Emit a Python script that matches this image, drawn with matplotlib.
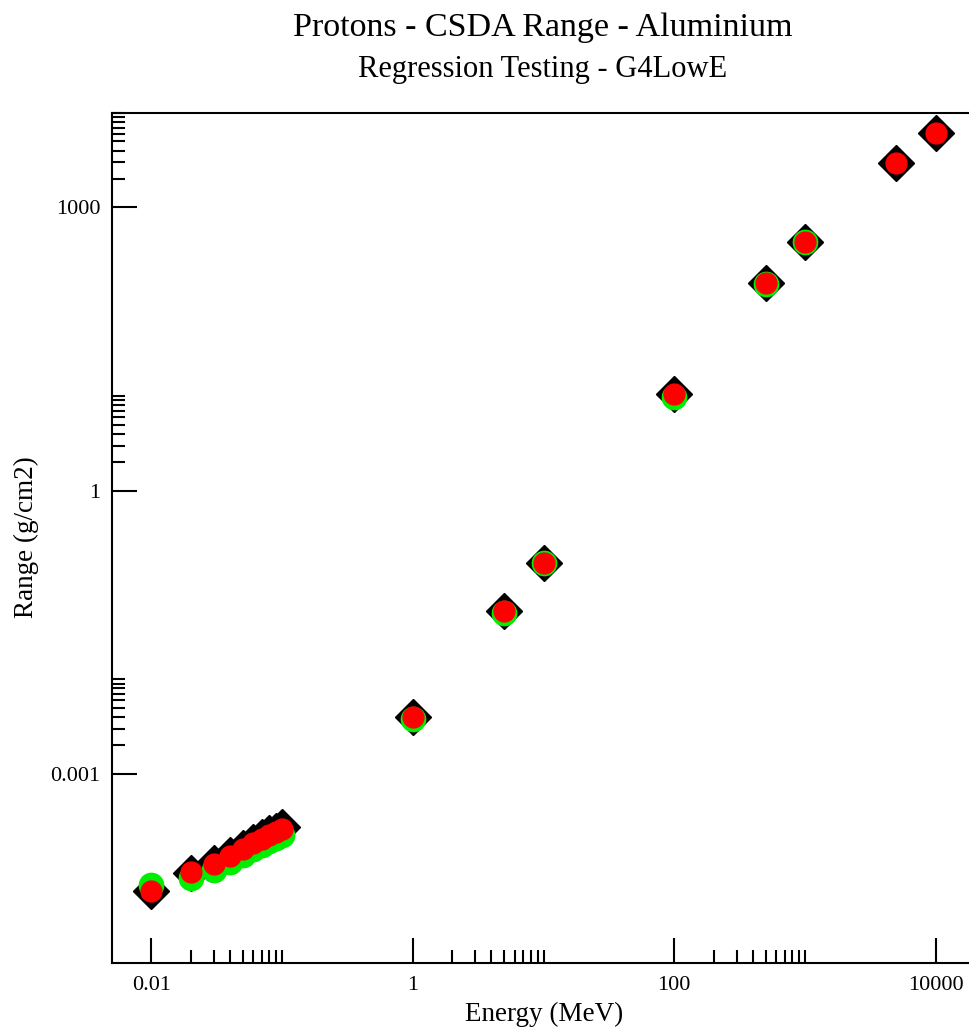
import numpy as np
import matplotlib
matplotlib.use("Agg")
import matplotlib.pyplot as plt
from matplotlib.ticker import FixedLocator, NullFormatter

# energies (MeV)
energy = [0.01, 0.02, 0.03, 0.04, 0.05, 0.06, 0.07, 0.08, 0.09, 0.1,
          1, 5, 10, 100, 500, 1000, 5000, 10000]
# reference range (black diamonds), g/cm2
range_ref = [5.7e-5, 8.9e-5, 1.12e-4, 1.37e-4, 1.64e-4, 1.89e-4, 2.15e-4, 2.34e-4, 2.50e-4, 2.70e-4,
             3.98e-3, 0.0535, 0.172, 10.5, 157, 434, 2940, 6100]
# second set (green)
energy_g = [0.01, 0.02, 0.03, 0.04, 0.05, 0.06, 0.07, 0.08, 0.09, 0.1,
            1, 5, 10, 100, 500, 1000]
range_g = [6.64e-5, 7.9e-5, 9.6e-5, 1.17e-4, 1.39e-4, 1.61e-4, 1.77e-4, 1.95e-4, 2.10e-4, 2.26e-4,
           3.84e-3, 0.0499, 0.169, 9.82, 154, 429]
# G4LowE (red)
range_r = [5.66e-5, 8.99e-5, 1.10e-4, 1.35e-4, 1.61e-4, 1.86e-4, 2.05e-4, 2.26e-4, 2.43e-4, 2.62e-4,
           3.96e-3, 0.0527, 0.170, 10.66, 158, 431, 2930, 6090]

x_major = [0.01, 1, 100, 10000]
x_labels = ["0.01", "1", "100", "10000"]
y_major = [0.001, 1, 1000]
y_labels = ["0.001", "1", "1000"]

plt.rcParams['font.family'] = ['Liberation Serif', 'DejaVu Serif']

fig = plt.figure(figsize=(9.69, 10.32), dpi=100)
ax = fig.add_axes([112 / 969, (1032 - 962.5) / 1032, (975 - 112) / 969, (962.5 - 113) / 1032])

ax.plot(energy, range_ref, ls='none', marker='D', ms=18, color='black', mec='black')
ax.plot(energy_g, range_g, ls='none', marker='o', ms=17.5, color='#00ee00', mec='#00ee00')
ax.plot(energy, range_r, ls='none', marker='o', ms=15, color='#ff0000', mec='#ff0000')

ax.set_xscale('log')
ax.set_yscale('log')
ax.set_xlim(0.005, 20000)
ax.set_ylim(1e-5, 1e4)

# grace style: minor ticks only in the decade after each major tick
x_minor = [m * k for m in x_major for k in range(2, 11)]
y_minor = [m * k for m in y_major for k in range(2, 11)]
ax.xaxis.set_major_locator(FixedLocator(x_major))
ax.xaxis.set_minor_locator(FixedLocator(x_minor))
ax.yaxis.set_major_locator(FixedLocator(y_major))
ax.yaxis.set_minor_locator(FixedLocator(y_minor))
ax.set_xticklabels(x_labels)
ax.set_yticklabels(y_labels)
ax.xaxis.set_minor_formatter(NullFormatter())
ax.yaxis.set_minor_formatter(NullFormatter())

ax.tick_params(which='both', direction='in', top=False, right=False, width=1.5, color='black')
ax.tick_params(which='major', length=18, labelsize=16)
ax.tick_params(axis='x', which='major', pad=9.5)
ax.tick_params(axis='y', which='major', pad=8.5)
ax.tick_params(which='minor', length=9.5)
for s in ax.spines.values():
    s.set_linewidth(1.5)

fig.text(543 / 969, 1 - 36 / 1032, "Protons - CSDA Range - Aluminium", ha='center', va='baseline', fontsize=24.5)
fig.text(543 / 969, 1 - 77 / 1032, "Regression Testing - G4LowE", ha='center', va='baseline', fontsize=22)
fig.text(544 / 969, 1 - 1021 / 1032, "Energy (MeV)", ha='center', va='baseline', fontsize=19.5)
fig.text(26 / 969, 1 - 537.5 / 1032, "Range (g/cm2)", ha='center', va='center', rotation=90, fontsize=19.5)

plt.savefig('out.png', dpi=100)
